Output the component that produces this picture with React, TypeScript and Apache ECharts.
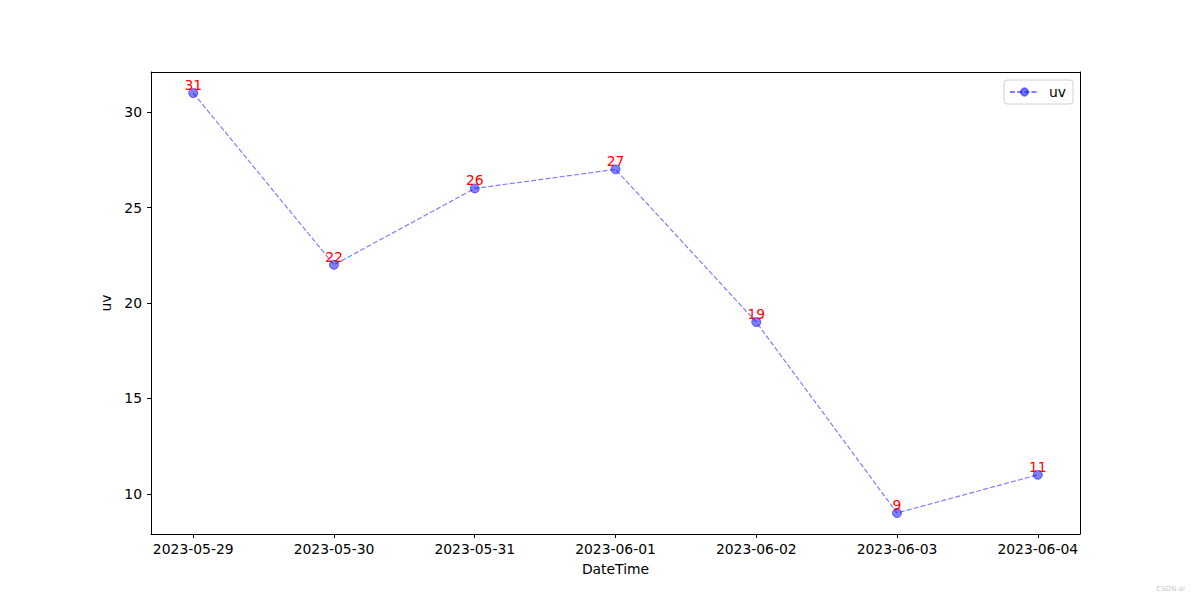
import React, { useEffect, useRef } from "react";
import * as echarts from "echarts";

const categories = ["2023-05-29", "2023-05-30", "2023-05-31", "2023-06-01", "2023-06-02", "2023-06-03", "2023-06-04"];
const uvValues = [31, 22, 26, 27, 19, 9, 11];
const yTicks = [10, 15, 20, 25, 30];
const xTicks = [0, 1, 2, 3, 4, 5, 6];

const FONT = "DejaVu Sans";
const BLUE = "rgba(0,0,255,0.5)";

export default function App() {
  const ref = useRef<HTMLDivElement>(null);
  useEffect(() => {
    if (!ref.current) return;
    const chart = echarts.init(ref.current, null, { renderer: "svg" });
    const data = uvValues.map((v, i) => [i, v]);
    chart.setOption({
      animation: false,
      backgroundColor: "#ffffff",
      textStyle: { fontFamily: FONT },
      grid: { left: 151, right: 120, top: 72, bottom: 66, containLabel: false },
      legend: {
        show: true,
        right: 127,
        top: 80,
        padding: [5, 7, 5, 5],
        itemWidth: 29,
        itemHeight: 9,
        borderColor: "#d0d0d0",
        borderWidth: 1,
        borderRadius: 3,
        backgroundColor: "#ffffff",
        textStyle: { fontFamily: FONT, fontSize: 13.9, color: "#000", padding: [0, 0, 0, 5] },
        data: [{ name: "uv" }],
      },
      xAxis: [
        {
          type: "value",
          min: -0.3,
          max: 6.3,
          name: "DateTime",
          nameLocation: "middle",
          nameGap: 28,
          nameTextStyle: { fontFamily: FONT, fontSize: 13.9, color: "#000" },
          axisLine: { show: true, onZero: false, lineStyle: { color: "#000", width: 1 } },
          axisTick: { show: true, inside: false, length: 4, customValues: xTicks, lineStyle: { color: "#000" } },
          axisLabel: {
            show: true,
            customValues: xTicks,
            margin: 8,
            fontFamily: FONT,
            fontSize: 13.9,
            color: "#000",
            formatter: (v: number) => categories[Math.round(v)] ?? "",
          },
          splitLine: { show: false },
        },
        {
          type: "value",
          position: "top",
          min: -0.3,
          max: 6.3,
          axisLine: { show: true, onZero: false, lineStyle: { color: "#000", width: 1 } },
          axisTick: { show: false },
          axisLabel: { show: false },
          splitLine: { show: false },
        },
      ],
      yAxis: [
        {
          type: "value",
          min: 7.9,
          max: 32.1,
          name: "uv",
          nameLocation: "middle",
          nameGap: 34,
          nameRotate: 90,
          nameTextStyle: { fontFamily: FONT, fontSize: 13.9, color: "#000" },
          axisLine: { show: true, onZero: false, lineStyle: { color: "#000", width: 1 } },
          axisTick: { show: true, inside: false, length: 4, customValues: yTicks, lineStyle: { color: "#000" } },
          axisLabel: {
            show: true,
            customValues: yTicks,
            margin: 9,
            fontFamily: FONT,
            fontSize: 13.9,
            color: "#000",
          },
          splitLine: { show: false },
        },
        {
          type: "value",
          position: "right",
          min: 7.9,
          max: 32.1,
          axisLine: { show: true, onZero: false, lineStyle: { color: "#000", width: 1 } },
          axisTick: { show: false },
          axisLabel: { show: false },
          splitLine: { show: false },
        },
      ],
      series: [
        {
          name: "uv",
          type: "line",
          xAxisIndex: 0,
          yAxisIndex: 0,
          data,
          symbol: "circle",
          symbolSize: 9,
          lineStyle: { color: BLUE, width: 1.2, type: [5, 2.2] },
          itemStyle: { color: BLUE, borderColor: BLUE, borderWidth: 1, opacity: 1 },
          label: {
            show: true,
            position: "top",
            distance: -4,
            color: "#ff0000",
            fontFamily: FONT,
            fontSize: 13.9,
            formatter: (p: any) => String(p.value[1]),
          },
          emphasis: { disabled: true },
        },
      ],
      graphic: [
        {
          type: "text",
          right: 15,
          bottom: 8,
          style: { text: "CSDN-ai", fill: "#c8c8c8", fontSize: 7, fontFamily: FONT },
        },
      ],
    });
    return () => chart.dispose();
  }, []);
  return <div ref={ref} style={{ width: 1200, height: 600, position: "absolute", left: 0, top: 0 }} />;
}
